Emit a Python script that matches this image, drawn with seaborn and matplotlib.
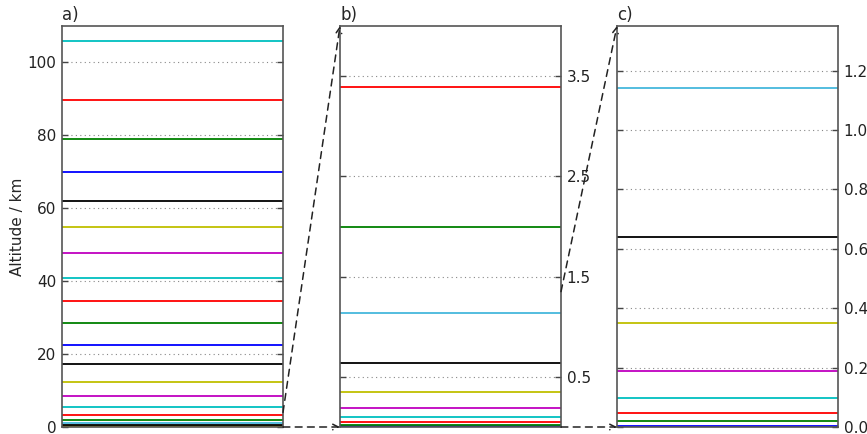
import matplotlib
matplotlib.use("Agg")
import matplotlib.pyplot as plt
from matplotlib.patches import ConnectionPatch
import seaborn as sns
import pandas as pd

# Layer boundary altitudes (km), bottom to top
altitudes = [0.005, 0.02, 0.047, 0.098, 0.188, 0.35, 0.64, 1.14, 2.0, 3.39,
             5.5, 8.5, 12.3, 17.3, 22.5, 28.5, 34.5, 40.8, 47.7, 54.8,
             61.9, 69.9, 78.9, 89.6, 105.75]
# colour cycle b g r c m y k
cycle = ['#0000ff', '#008000', '#ff0000', '#00bfbf', '#bf00bf', '#bfbf00', '#000000']
colors = [cycle[i % len(cycle)] for i in range(len(altitudes))]
colors[7] = '#45b8dc'

panel_labels = ['a)', 'b)', 'c)']
panel_ylims = [(0, 110), (0, 4.0), (0, 1.35)]
panel_ticks = [[0, 20, 40, 60, 80, 100], [0.5, 1.5, 2.5, 3.5],
               [0.0, 0.2, 0.4, 0.6, 0.8, 1.0, 1.2]]
panel_ticklabels = [['0', '20', '40', '60', '80', '100'], ['0.5', '1.5', '2.5', '3.5'],
                    ['0.0', '0.2', '0.4', '0.6', '0.8', '1.0', '1.2']]

sns.set_style("white")
plt.rcParams['font.family'] = ['DejaVu Sans']

rows = []
for i, a in enumerate(altitudes):
    rows.append({'x': 0, 'alt': a, 'level': i})
    rows.append({'x': 1, 'alt': a, 'level': i})
df = pd.DataFrame(rows)

fig = plt.figure(figsize=(8.67, 4.34), dpi=100)
lefts = [62 / 867, 340 / 867, 617 / 867]
w = 221 / 867
bottom = 1 - 427 / 434
h = (427 - 26) / 434
axes = []
for k in range(3):
    ax = fig.add_axes([lefts[k], bottom, w, h])
    for t in panel_ticks[k]:
        ax.axhline(t, color='#888888', lw=0.8, ls=(0, (1, 3)), zorder=0)
    sns.lineplot(data=df, x='x', y='alt', hue='level', palette=colors,
                 legend=False, estimator=None, ax=ax, lw=1.3)
    ax.set_xlim(0, 1)
    ax.set_ylim(*panel_ylims[k])
    ax.set_xticks([])
    ax.set_xlabel('')
    ax.set_ylabel('')
    ax.set_yticks(panel_ticks[k])
    ax.set_yticklabels(panel_ticklabels[k])
    ax.tick_params(axis='y', direction='in', length=4, width=1, color='#444444',
                   left=True, right=True, labelsize=11, pad=4, labelcolor='#222222')
    if k > 0:
        ax.tick_params(axis='y', labelleft=False, labelright=True)
    for s in ax.spines.values():
        s.set_color('#555555')
        s.set_linewidth(1.2)
    ax.set_title(panel_labels[k], loc='left', fontsize=12, pad=4)
    axes.append(ax)

axes[0].set_ylabel('Altitude / km', fontsize=11, labelpad=2)

zoom_tops = [4.0, 1.35]
for k in range(2):
    src, dst = axes[k], axes[k + 1]
    for yv in [zoom_tops[k], 0.0]:
        con = ConnectionPatch(xyA=(1, yv), coordsA=src.transData,
                              xyB=(0, yv), coordsB=dst.transData,
                              arrowstyle='->', linestyle=(0, (4.5, 3.5)), color='#222222',
                              lw=1.1, mutation_scale=10)
        fig.add_artist(con)

fig.savefig('out.png', dpi=100)
